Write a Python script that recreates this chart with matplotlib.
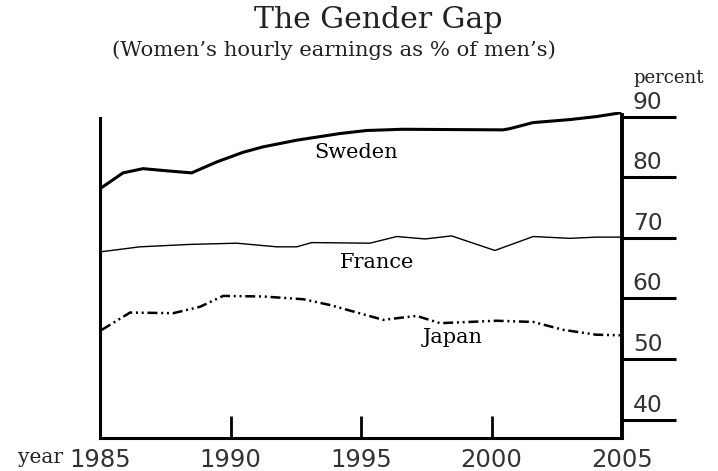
import matplotlib.pyplot as plt
from matplotlib.transforms import blended_transform_factory

# data (year, % of men's hourly earnings)
sweden_years = [1985.07, 1985.88, 1986.65, 1987.68, 1988.51, 1989.47, 1990.48, 1991.25,
                1992.54, 1994.2, 1995.22, 1996.6, 2000.44, 2000.7, 2001.59, 2003.0,
                2004.03, 2004.92]
sweden_vals = [78.3, 80.7, 81.4, 81.0, 80.7, 82.5, 84.1, 85.0,
               86.1, 87.2, 87.7, 87.9, 87.8, 88.0, 89.0, 89.5,
               90.0, 90.6]

france_years = [1985.07, 1986.53, 1988.45, 1990.24, 1991.77, 1992.54, 1993.11, 1995.34,
                1996.37, 1997.45, 1998.47, 2000.13, 2001.6, 2003.0, 2004.03, 2004.92]
france_vals = [67.7, 68.5, 68.9, 69.1, 68.5, 68.5, 69.2, 69.1,
               70.2, 69.8, 70.3, 67.9, 70.2, 69.9, 70.1, 70.1]

japan_years = [1985.07, 1986.15, 1987.81, 1988.83, 1989.72, 1991.26, 1992.79, 1993.81,
               1995.85, 1997.13, 1998.03, 2000.2, 2001.6, 2002.75, 2004.0, 2004.92]
japan_vals = [54.8, 57.65, 57.55, 58.6, 60.4, 60.3, 59.85, 58.9,
              56.45, 57.1, 55.9, 56.3, 56.1, 54.8, 54.0, 53.9]

x_ticks = [1985, 1990, 1995, 2000, 2005]
y_ticks = [40, 50, 60, 70, 80, 90]

serif = 'DejaVu Serif'
sans = 'DejaVu Sans'
grey = '#333333'

fig = plt.figure( figsize = ( 7.18, 4.71 ), dpi = 100 )
ax = fig.add_axes( [ 100 / 718, 33 / 471, 522 / 718, 326 / 471 ] )

ax.plot( sweden_years, sweden_vals, color = 'black', lw = 2.2 )
ax.plot( france_years, france_vals, color = 'black', lw = 1.0 )
ax.plot( japan_years, japan_vals, color = 'black', lw = 1.8,
         dashes = ( 4, 1.5, 0.8, 1.5, 0.8, 1.5 ) )

ax.set_xlim( 1985, 2005 )
ax.set_ylim( 36.95, 90.75 )

ax.spines[ 'top' ].set_visible( False )
ax.spines[ 'left' ].set_linewidth( 2.2 )
ax.spines[ 'bottom' ].set_linewidth( 2.2 )
ax.spines[ 'right' ].set_linewidth( 2.8 )
ax.spines[ 'left' ].set_bounds( 36.95, 89.8 )
ax.spines[ 'right' ].set_bounds( 36.95, 90.3 )

# bottom ticks point inward, only interior years
ax.set_xticks( x_ticks[ 1:-1 ] )
ax.tick_params( axis = 'x', direction = 'in', length = 16, width = 2, labelbottom = False )

# right ticks stick out as long bars
ax.yaxis.tick_right()
ax.set_yticks( y_ticks )
ax.tick_params( axis = 'y', direction = 'out', length = 39, width = 2.2, labelright = False )

# tick labels
ytr = blended_transform_factory( ax.transAxes, ax.transData )
for v in y_ticks:
    ax.text( 1.049, v + 1.3, str( v ), transform = ytr, ha = 'center', va = 'baseline',
             fontsize = 16.8, family = sans, color = grey )

xtr = blended_transform_factory( ax.transData, ax.transAxes )
for yr in x_ticks:
    ax.text( yr, -0.089, str( yr ), transform = xtr, ha = 'center', va = 'baseline',
             fontsize = 17.5, family = sans, color = grey )

ax.text( -0.071, -0.077, 'year', transform = ax.transAxes, ha = 'right', va = 'baseline',
         fontsize = 14.5, family = serif, color = '#222222' )
ax.text( 1.021, 1.104, 'percent', transform = ax.transAxes, ha = 'left', va = 'center',
         fontsize = 13, family = serif, color = '#222222' )

# series labels
ax.text( 1994.81, 83.23, 'Sweden', ha = 'center', va = 'baseline', fontsize = 15, family = serif )
ax.text( 1995.61, 65.08, 'France', ha = 'center', va = 'baseline', fontsize = 15, family = serif )
ax.text( 1998.52, 52.7, 'Japan', ha = 'center', va = 'baseline', fontsize = 15, family = serif )

fig.text( 378 / 718, 1 - 28 / 471, 'The Gender Gap', ha = 'center', va = 'baseline',
          fontsize = 21.5, family = serif, color = '#222222' )
fig.text( 334 / 718, 1 - 56 / 471, '(Women\u2019s hourly earnings as % of men\u2019s)',
          ha = 'center', va = 'baseline', fontsize = 15.2, family = serif, color = '#222222' )

fig.savefig( 'out.png', dpi = 100 )
